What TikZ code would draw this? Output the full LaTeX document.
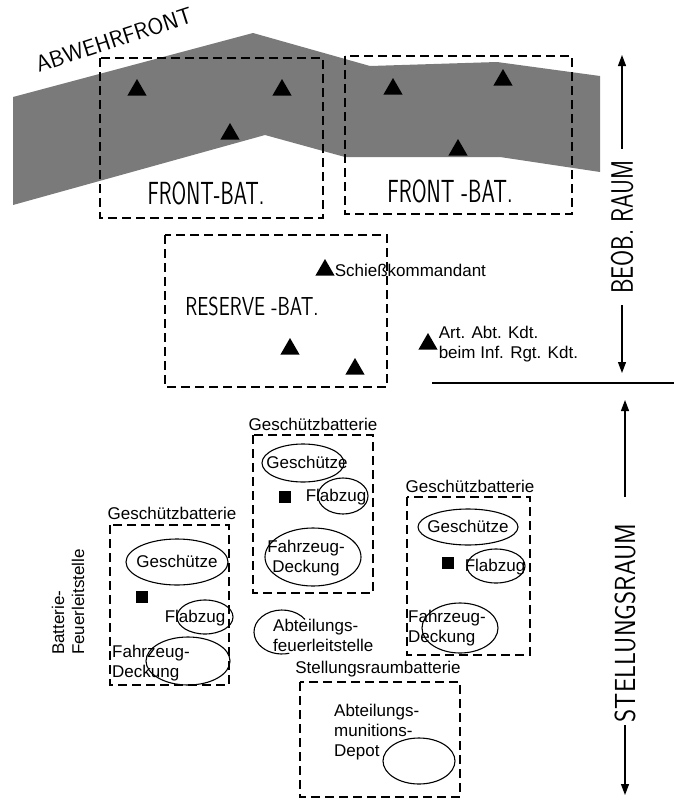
\documentclass[tikz,border=0pt]{standalone}
\usepackage{fontspec}
\setmainfont{Liberation Sans}
\usetikzlibrary{positioning,shapes.geometric,arrows.meta}

% thin narrow capitals for the area names
\newcommand{\lettering}[3]{{\fontsize{#1}{#1}\selectfont\scalebox{#2}[1]{#3}}}

\begin{document}
\begin{tikzpicture}[x=1pt, y=-1pt,
        every node/.style={font=\fontsize{17}{20}\selectfont, inner sep=1pt},
        abschnitt/.style={line width=1.1pt, dash pattern=on 9pt off 5pt},
        posten/.style={regular polygon, regular polygon sides=3, fill=black, inner sep=0pt, minimum size=22pt},
        stelle/.style={fill=black, inner sep=0pt, minimum size=12pt},
        kreis/.style={line width=1.1pt},
        raum/.style={line width=1.2pt, -{Triangle[length=11pt,width=8pt]}},
        beschrift/.style={font=\sffamily, inner sep=0pt}]
        \useasboundingbox (0,0) rectangle (674,801);

        % Abwehrfront
        \fill[black!52] (13,97) -- (253,33) -- (370,66) -- (497,62) -- (600,76)
                -- (600,172) -- (500,157) -- (345,157) -- (265,135) -- (13,205) -- cycle;
        \node[beschrift, rotate=18, font=\sffamily\fontsize{23}{23}\selectfont] (abwehr) at (114,40) {ABWEHRFRONT};

        \draw[abschnitt] (100,58) rectangle (323,218);
        \draw[abschnitt] (345,56) rectangle (572,214);
        \node[beschrift] (fb1) at (206,193) {\lettering{32}{0.66}{FRONT-BAT.}};
        \node[beschrift] (fb2) at (450,191) {\lettering{32}{0.67}{FRONT -BAT.}};

        \node[posten] (f1a) at (137,90) {};
        \node[posten] (f1b) at (282,90) {};
        \node[posten] (f1c) at (230,134) {};
        \node[posten] (f2a) at (393,89) {};
        \node[posten] (f2b) at (503,80) {};
        \node[posten] (f2c) at (458,150) {};

        % Reserve
        \draw[abschnitt] (165,235) rectangle (387,387);
        \node[beschrift] (rb) at (252,306) {\lettering{26}{0.76}{RESERVE -BAT.}};
        \node[posten] (sk) at (325,270) {};
        \node[posten] (r1) at (290,349) {};
        \node[posten] (r2) at (355,369) {};
        \node[right=2pt of sk] (sktext) {Schießkommandant};
        \node[posten] (art) at (428,344) {};
        \node[right=3pt of art, align=left] (arttext) {Art. Abt. Kdt.\\beim Inf. Rgt. Kdt.};

        \draw[line width=1.2pt] (432,383) -- (674,383);

        % Raeume
        \node[beschrift, rotate=90, inner sep=11pt] (beob) at (622,227) {\lettering{31}{0.75}{BEOB. RAUM}};
        \draw[raum] (beob.east) -- (beob.east |- 0,55);
        \draw[raum] (beob.west) -- (beob.west |- 0,373);
        \node[beschrift, rotate=90, inner sep=3pt] (stell) at (625,623) {\lettering{29}{0.87}{STELLUNGSRAUM}};
        \draw[raum] ([yshift=24pt]stell.east) -- (stell.east |- 0,400);
        \draw[raum] (stell.west) -- (stell.west |- 0,795);

        % Geschuetzbatterie links
        \draw[abschnitt] (110,525) rectangle (229,685);
        \node (gb1) at (172,513) {Geschützbatterie};
        \node (g1) at (177,561) {Geschütze};
        \draw[kreis] (177,562) ellipse [x radius=51, y radius=23];
        \node[stelle] (s1) at (142,597) {};
        \node (fz1) at (195,618) {Flabzug};
        \draw[kreis] (205,617) ellipse [x radius=28, y radius=17];
        \node[anchor=west, align=left] (fd1) at (111,663) {Fahrzeug-\\Deckung};
        \draw[kreis] (188,661) ellipse [x radius=42, y radius=24];
        \node[rotate=90, align=left] (bf) at (68,602) {Batterie-\\Feuerleitstelle};

        % Geschuetzbatterie Mitte
        \draw[abschnitt] (253,435) rectangle (373,593);
        \node (gb2) at (313,424) {Geschützbatterie};
        \node (g2) at (307,462) {Geschütze};
        \draw[kreis] (303,463) ellipse [x radius=41, y radius=19];
        \node[stelle] (s2) at (285,497) {};
        \node (fz2) at (336,497) {Flabzug};
        \draw[kreis] (343,496) ellipse [x radius=25, y radius=18];
        \node[align=center] (fd2) at (306,558) {Fahrzeug-\\Deckung};
        \draw[kreis] (313,557) ellipse [x radius=48, y radius=29];

        % Geschuetzbatterie rechts
        \draw[abschnitt] (407,497) rectangle (530,655);
        \node (gb3) at (470,486) {Geschützbatterie};
        \node (g3) at (468,526) {Geschütze};
        \draw[kreis] (468,527) ellipse [x radius=50, y radius=18];
        \node[stelle] (s3) at (448,563) {};
        \node (fz3) at (495,567) {Flabzug};
        \draw[kreis] (496,566) ellipse [x radius=29, y radius=17];
        \node[anchor=west, align=left] (fd3) at (407,628) {Fahrzeug-\\Deckung};
        \draw[kreis] (460,628) ellipse [x radius=38, y radius=25];

        % Abteilung
        \node[anchor=west, align=left] (af) at (272,635) {Abteilungs-\\feuerleitstelle};
        \draw[kreis] (282,632) ++(-35:28 and 22) arc [start angle=-35, end angle=-285, x radius=28, y radius=22];

        \draw[abschnitt] (300,682) rectangle (460,797);
        \node (srb) at (378,669) {Stellungsraumbatterie};
        \node[anchor=west, align=left] (amd) at (333,732) {Abteilungs-\\munitions-\\Depot};
        \draw[kreis] (419,761) ellipse [x radius=36, y radius=23];
\end{tikzpicture}
\end{document}
